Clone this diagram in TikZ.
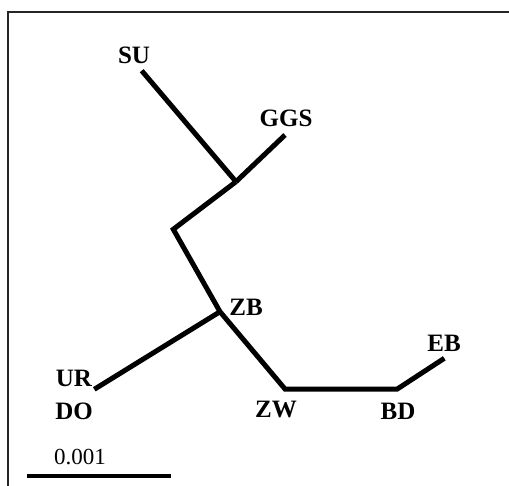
\documentclass[tikz,border=0pt]{standalone}
\usepackage{fontspec}
\setmainfont{Liberation Serif}
\begin{document}
\begin{tikzpicture}[x=1pt,y=-1pt,
  branch/.style={line width=5pt,line cap=butt,line join=miter},
  lab/.style={font=\fontsize{25}{25}\selectfont\bfseries,inner sep=0pt},
  scalelab/.style={font=\fontsize{23}{23}\selectfont,inner sep=0pt}]
\useasboundingbox (0,0) rectangle (509,485);
\begin{scope}
\clip (0,0) rectangle (509,485);
\draw[line width=2pt,black!85] (8,500) -- (8,11.5) -- (520,11.5);
\end{scope}
% tree vertices
\coordinate (su) at (141.7,70.7);
\coordinate (a) at (236,181.7);
\coordinate (ggs) at (285,135);
\coordinate (b) at (173.3,229.3);
\coordinate (zb) at (220,311.7);
\coordinate (ur) at (94.3,389.3);
\coordinate (zw) at (285,389);
\coordinate (bd) at (397.3,389);
\coordinate (eb) at (444.3,358.3);
\draw[branch] (su) -- (a);
\draw[branch] (ggs) -- (a);
\draw[branch] (a) -- (b) -- (zb) -- (zw) -- (bd) -- (eb);
\draw[branch] (zb) -- (ur);
% labels
\node[lab] (lsu) at (134,55) {SU};
\node[lab] (lggs) at (286,118) {GGS};
\node[lab] (lzb) at (246,307) {ZB};
\node[lab] (lur) at (74,378) {UR};
\node[lab] (ldo) at (74,411) {DO};
\node[lab] (lzw) at (276,409) {ZW};
\node[lab] (lbd) at (398,411) {BD};
\node[lab] (leb) at (444,343) {EB};
% scale bar
\coordinate (s1) at (26.7,475.7);
\coordinate (s2) at (170.7,475.7);
\draw[line width=4pt] (s1) -- (s2);
\node[scalelab] (lscale) at (80,457) {0.001};
\end{tikzpicture}
\end{document}
